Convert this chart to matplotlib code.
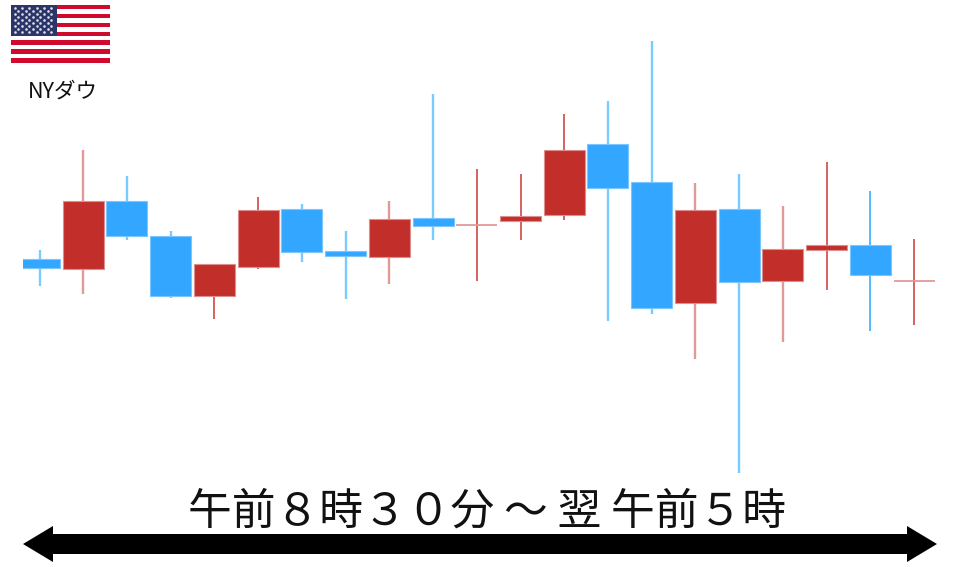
import numpy as np
import matplotlib
matplotlib.use("Agg")
import matplotlib.pyplot as plt
from matplotlib.patches import Polygon, Rectangle

plt.rcParams['font.family'] = ['Noto Sans CJK JP', 'DejaVu Sans']

# candles (y axis runs downwards like the image)
highs = [250, 150, 176, 231, 264, 197, 204, 231, 201, 94, 169, 174, 114, 101, 41, 183, 174, 206, 162, 191, 239]
lows = [286, 294, 240, 298, 319, 269, 262, 299, 284, 240, 281, 240, 220, 321, 314, 359, 473, 342, 290, 331, 325]
tops = [259, 201, 201, 236, 264, 210, 209, 251, 219, 218, 225, 216, 150, 144, 182, 210, 209, 249, 245, 245, 281]
bottoms = [268, 269, 236, 296, 296, 267, 252, 256, 257, 226, 226, 221, 215, 188, 308, 303, 282, 281, 250, 275, 282]
kinds = ["b", "r", "b", "b", "r", "r", "b", "b", "r", "b", "r", "r", "r", "b", "b", "r", "b", "r", "r", "b", "r"]

title = "午前８時３０分 ～ 翌 午前５時"
flag_label = "NYダウ"

body_colors = {"b": "#33a6ff", "r": "#c22e2a"}
wick_colors = {"b": "#78ccff", "r": "#e09a98"}
dark_wick_colors = {"b": "#52baff", "r": "#d4625f"}
edge_colors = {"b": "#7cc6ff", "r": "#dc8f8c"}
dark_wicks = [4, 5, 10, 11, 12, 18, 19, 20]

fig = plt.figure(figsize=(9.6, 5.67), dpi=100)
ax = fig.add_axes([0, 0, 1, 1])
ax.set_xlim(0, 960)
ax.set_ylim(567, 0)
ax.axis("off")

# clip the first candle on the left like the original
clip = Rectangle((23, 0), 914, 567, transform=ax.transData)

x0 = 39.5
step = 43.73
for i in range(len(kinds)):
    x = x0 + step * i
    k = kinds[i]
    if i in dark_wicks:
        wick, = ax.plot([x, x], [highs[i], lows[i]], color=dark_wick_colors[k], lw=1.4, solid_capstyle="butt", zorder=2)
    else:
        wick, = ax.plot([x, x], [highs[i], lows[i]], color=wick_colors[k], lw=1.7, solid_capstyle="butt", zorder=2)
    wick.set_clip_path(clip)
    w = 20.5
    if k == "r" and bottoms[i] - tops[i] <= 1:
        # doji, only a thin line
        d, = ax.plot([x - w, x + w], [tops[i], tops[i]], color=wick_colors[k], lw=1.3, solid_capstyle="butt", zorder=3)
        d.set_clip_path(clip)
    else:
        body = Rectangle((x - w, tops[i]), 2 * w, bottoms[i] - tops[i], facecolor=body_colors[k],
                         edgecolor=edge_colors[k], lw=0.8, zorder=3)
        ax.add_patch(body)
        body.set_clip_path(clip)

# flag
fx, fy, fw, fh = 11, 5, 99, 57.5
ax.add_patch(Rectangle((fx, fy), fw, fh, facecolor="white", edgecolor="none"))
for s in range(0, 13, 2):
    ax.add_patch(Rectangle((fx, fy + s * fh / 13), fw, fh / 13, facecolor="#cf0a2c", edgecolor="none"))
ax.add_patch(Rectangle((fx, fy), fw * 0.46, fh * 7 / 13, facecolor="#2c3568", edgecolor="none", zorder=2))
star_x = []
star_y = []
for r in range(9):
    n = 6 if r % 2 == 0 else 5
    for c in range(n):
        star_x.append(fx + 3.8 + 7.3 * c + (0 if r % 2 == 0 else 3.65))
        star_y.append(fy + 3.2 + 3.0 * r)
ax.scatter(star_x, star_y, s=3.5, color="#dfe2ee", linewidths=0, zorder=3)
ax.text(62.5, 91.5, flag_label, ha="center", va="center", fontsize=15.5, color="#111111")

# time span arrow
ax.add_patch(Polygon([(23, 544), (53, 526), (53, 534), (907, 534), (907, 526), (937, 544),
                      (907, 562), (907, 554), (53, 554), (53, 562)], closed=True, facecolor="black", edgecolor="none"))
ax.text(487, 512, title, ha="center", va="center", fontsize=31.5, color="#111111")

fig.savefig("out.png", dpi=100)
